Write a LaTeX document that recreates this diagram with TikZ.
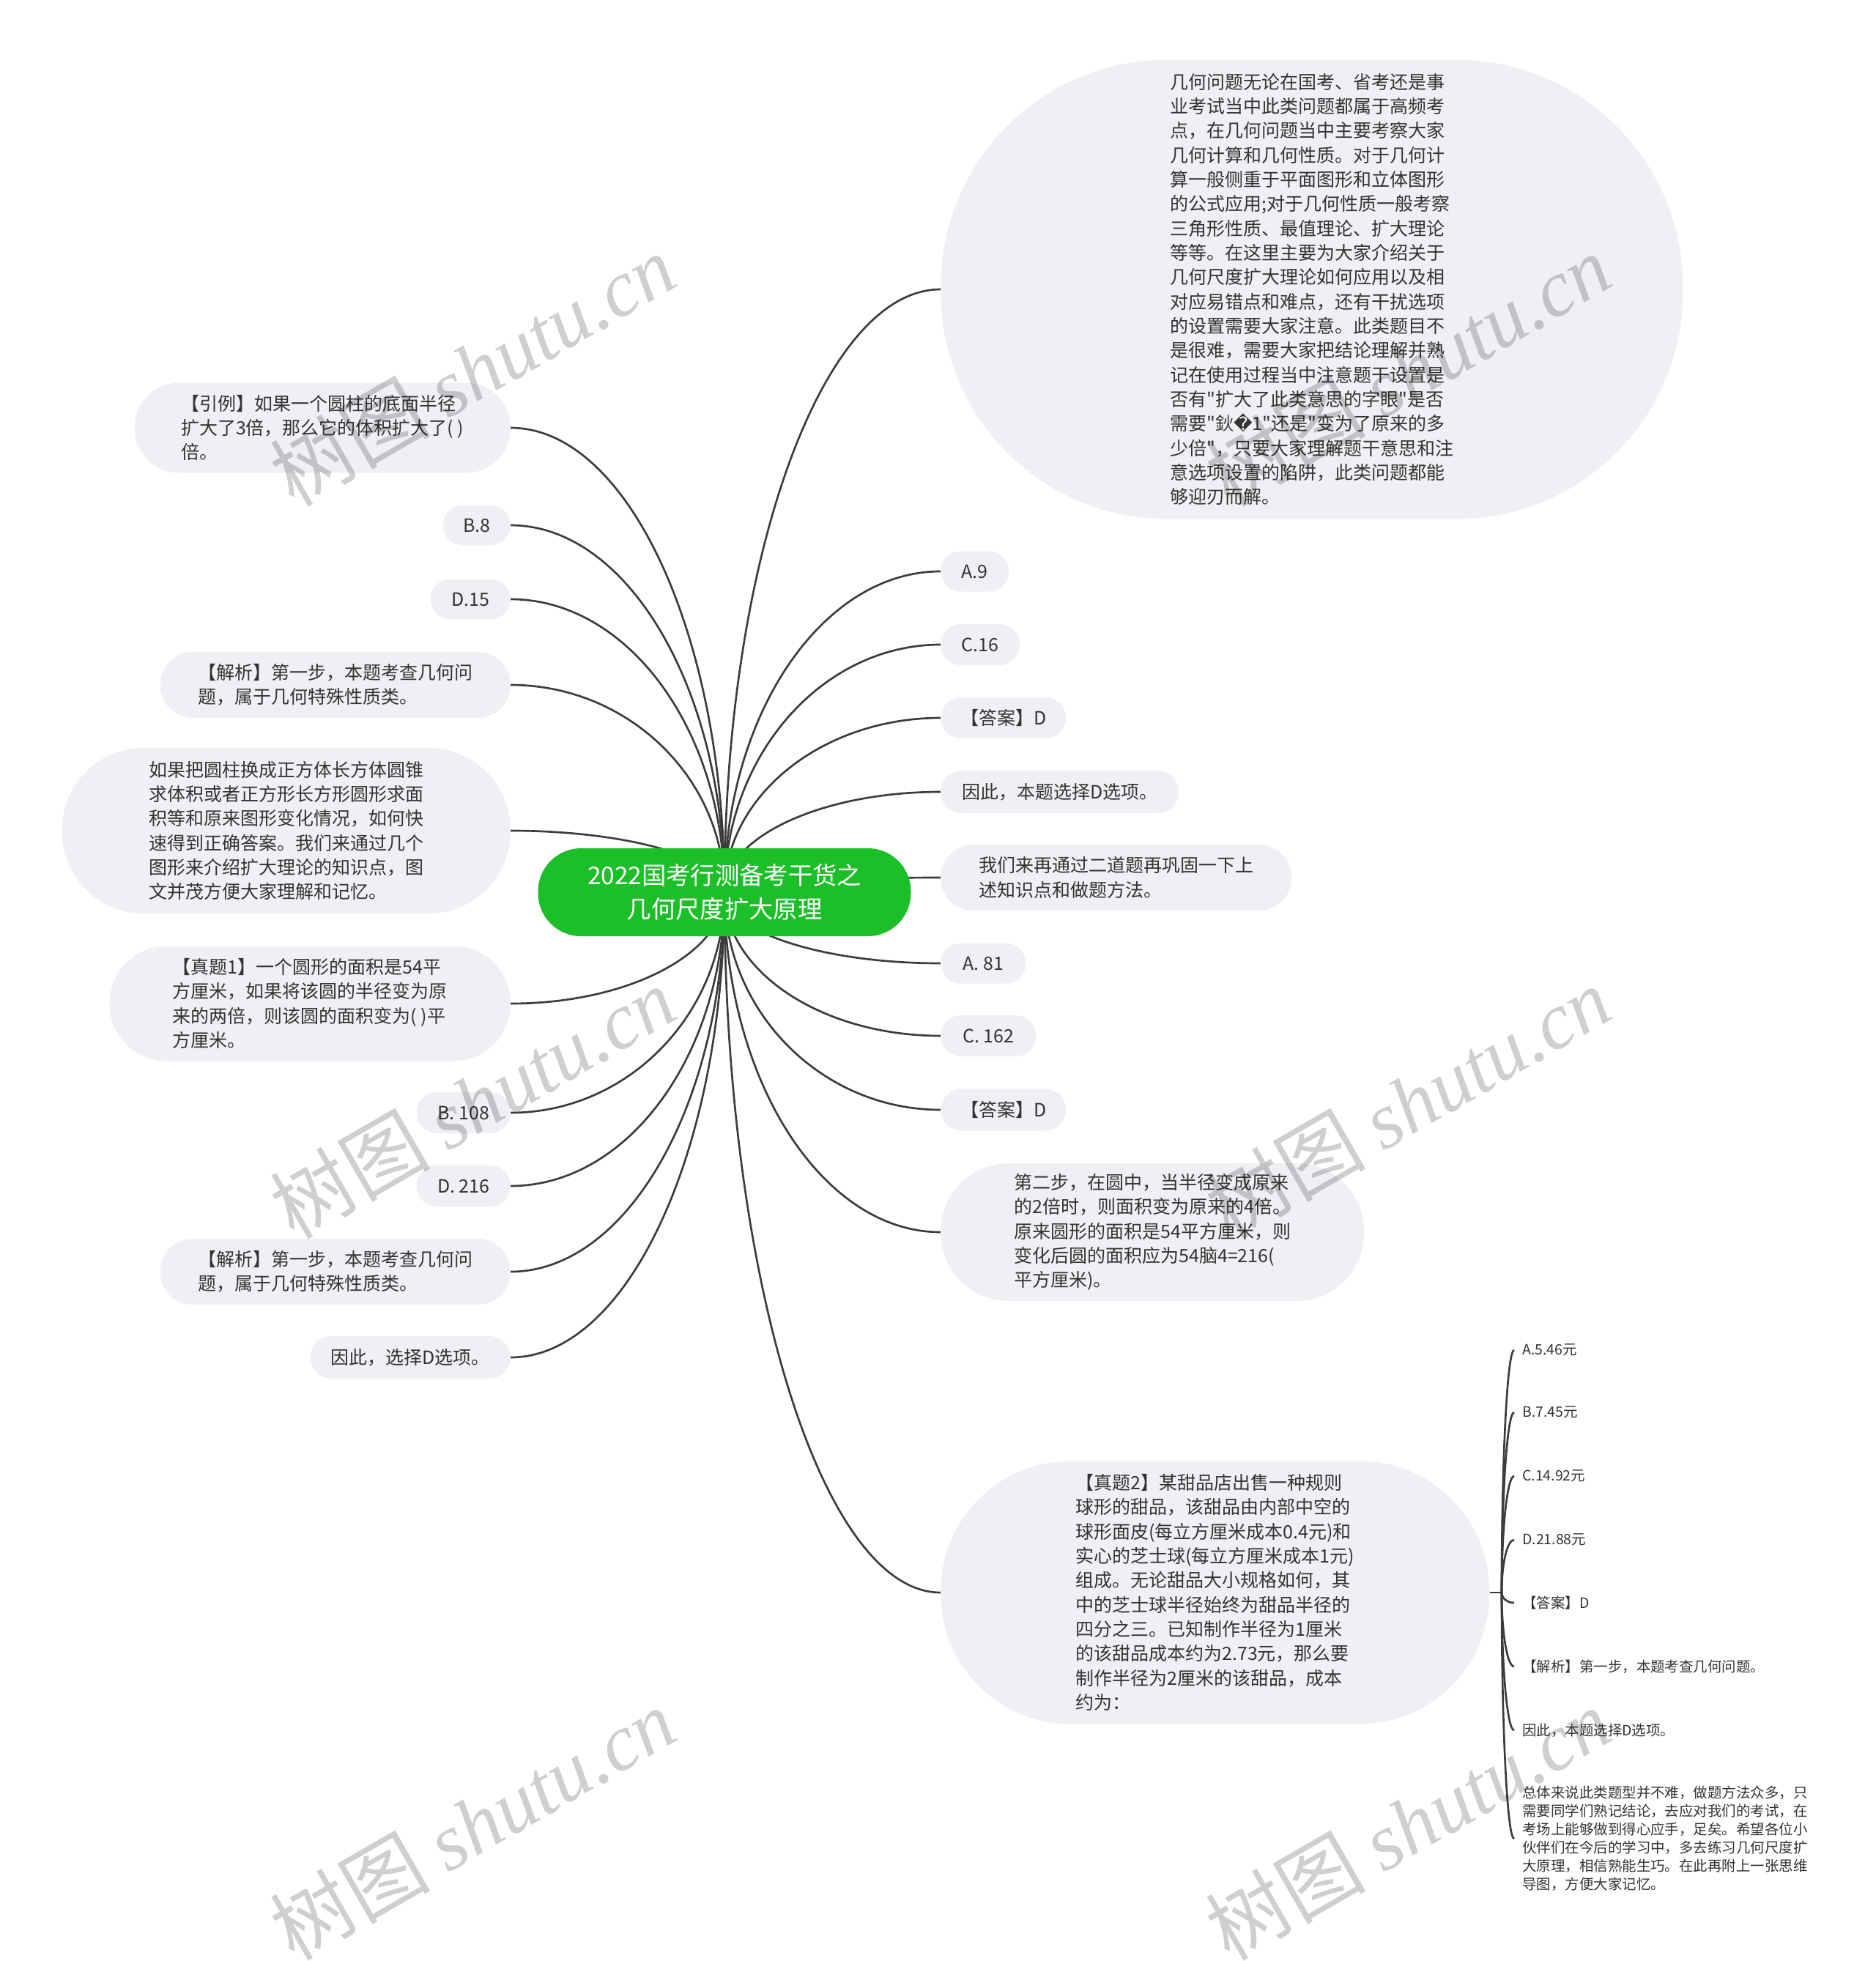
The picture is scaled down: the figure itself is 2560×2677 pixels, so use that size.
\documentclass[tikz,border=0pt]{standalone}
\usepackage{fontspec}
\setmainfont{Noto Sans CJK SC}
\newfontfamily\cjkplain{Noto Sans CJK SC}
\newfontfamily\djv{DejaVu Sans}
\newfontfamily\wmlat{Liberation Serif}
\usetikzlibrary{calc}
\definecolor{nodebg}{HTML}{EEF0F3}
\definecolor{txt}{HTML}{333333}
\definecolor{rootg}{HTML}{1DBF29}
\definecolor{linec}{HTML}{3C3C3C}
\newcommand\mfont{\cjkplain\fontsize{18.75pt}{25pt}\selectfont}
\newcommand\sfont{\cjkplain\fontsize{14.6pt}{18.75pt}\selectfont}
\newcommand\rfont{\cjkplain\fontsize{25pt}{34.5pt}\selectfont}
\newcommand\wfont{\cjkplain\fontsize{82pt}{82pt}\selectfont}
\pgfdeclarelayer{bg}\pgfdeclarelayer{fg}\pgfsetlayers{bg,main,fg}
\newcommand\connR[1]{\draw[conn] (root.center) .. controls ($(root.center)!0.55!(root.center |- #1.west)$) and ($(#1.west)!0.55!(root.center |- #1.west)$) .. (#1.west);}
\newcommand\connL[1]{\draw[conn] (root.center) .. controls ($(root.center)!0.55!(root.center |- #1.east)$) and ($(#1.east)!0.55!(root.center |- #1.east)$) .. (#1.east);}
\newcommand\connS[1]{\draw[conn] (stub) .. controls ($(stub)!0.55!(stub |- #1.west)$) and ($(#1.west)!0.55!(stub |- #1.west)$) .. (#1.west);}
\begin{document}
\begin{tikzpicture}[x=0.75pt,y=-0.75pt,
  conn/.style={draw=linec, line width=2pt},
  pill/.style 2 args={fill=nodebg, text=txt, align=left, inner sep=0pt, font=\mfont,
    minimum width=#1*0.75pt, minimum height=#2*0.75pt, rounded corners=#2*0.37pt},
  rnode/.style={anchor=west},
  lnode/.style={anchor=east},
  sub/.style={text=txt, align=left, inner xsep=8.25pt, inner ysep=0pt, anchor=west, font=\sfont},
  wmk/.style={text=black, text opacity=0.19, rotate=30, font=\wfont, inner sep=0pt},
]
\useasboundingbox (0,0) rectangle (2560,2677);
\begin{pgfonlayer}{bg}
\fill[white] (0,0) rectangle (2560,2677);
\end{pgfonlayer}

% root
\node[fill=rootg, text=white, align=center, inner sep=0pt, minimum width=509*0.75pt,
  minimum height=120*0.75pt, rounded corners=44pt, font=\rfont] (root) at (989,1218)
  {2022国考行测备考干货之\\几何尺度扩大原理};

% right side
\node[pill={1013}{627}, rnode] (big) at (1284,395) {几何问题无论在国考、省考还是事\\业考试当中此类问题都属于高频考\\点，在几何问题当中主要考察大家\\几何计算和几何性质。对于几何计\\算一般侧重于平面图形和立体图形\\的公式应用;对于几何性质一般考察\\三角形性质、最值理论、扩大理论\\等等。在这里主要为大家介绍关于\\几何尺度扩大理论如何应用以及相\\对应易错点和难点，还有干扰选项\\的设置需要大家注意。此类题目不\\是很难，需要大家把结论理解并熟\\记在使用过程当中注意题干设置是\\否有"扩大了此类意思的字眼"是否\\需要"鈥{\djv\char"FFFD}1"还是"变为了原来的多\\少倍"，只要大家理解题干意思和注\\意选项设置的陷阱，此类问题都能\\够迎刃而解。};
\node[pill={93}{55}, rnode] (a9) at (1284,780) {A.9};
\node[pill={108}{56}, rnode] (c16) at (1284,880) {C.16};
\node[pill={171}{56}, rnode] (ans1) at (1284,980) {【答案】D};
\node[pill={325}{58}, rnode] (th1) at (1284,1081) {因此，本题选择D选项。};
\node[pill={479}{90}, rnode] (wm) at (1284,1198) {我们来再通过二道题再巩固一下上\\述知识点和做题方法。};
\node[pill={116}{55}, rnode] (a81) at (1284,1315) {A. 81};
\node[pill={130}{56}, rnode] (c162) at (1284,1414) {C. 162};
\node[pill={171}{57}, rnode] (ans2) at (1284,1515) {【答案】D};
\node[pill={578}{188}, rnode] (step2) at (1284,1682) {第二步，在圆中，当半径变成原来\\的2倍时，则面积变为原来的4倍。\\原来圆形的面积是54平方厘米，则\\变化后圆的面积应为54脑4=216(\\平方厘米)。};
\node[pill={749}{359}, rnode] (zt2) at (1284,2174) {【真题2】某甜品店出售一种规则\\球形的甜品，该甜品由内部中空的\\球形面皮(每立方厘米成本0.4元)和\\实心的芝士球(每立方厘米成本1元)\\组成。无论甜品大小规格如何，其\\中的芝士球半径始终为甜品半径的\\四分之三。已知制作半径为1厘米\\的该甜品成本约为2.73元，那么要\\制作半径为2厘米的该甜品，成本\\约为：};

% left side
\node[pill={513}{123}, lnode] (yl) at (697,584) {【引例】如果一个圆柱的底面半径\\扩大了3倍，那么它的体积扩大了( )\\倍。};
\node[pill={92}{55}, lnode] (b8) at (697,717) {B.8};
\node[pill={109}{55}, lnode] (d15) at (697,818) {D.15};
\node[pill={478}{90}, lnode] (jx1) at (697,935) {【解析】第一步，本题考查几何问\\题，属于几何特殊性质类。};
\node[pill={612}{226}, lnode] (rg) at (697,1134) {如果把圆柱换成正方体长方体圆锥\\求体积或者正方形长方形圆形求面\\积等和原来图形变化情况，如何快\\速得到正确答案。我们来通过几个\\图形来介绍扩大理论的知识点，图\\文并茂方便大家理解和记忆。};
\node[pill={547}{157}, lnode] (zt1) at (697,1370) {【真题1】一个圆形的面积是54平\\方厘米，如果将该圆的半径变为原\\来的两倍，则该圆的面积变为( )平\\方厘米。};
\node[pill={128}{56}, lnode] (b108) at (697,1519) {B. 108};
\node[pill={128}{57}, lnode] (d216) at (697,1619) {D. 216};
\node[pill={478}{90}, lnode] (jx2) at (697,1736) {【解析】第一步，本题考查几何问\\题，属于几何特殊性质类。};
\node[pill={273}{58}, lnode] (th2) at (697,1853) {因此，选择D选项。};

% sub children of zt2
\coordinate (stub) at (2050,2174);
\node[sub] (s1) at (2067,1843) {A.5.46元};
\node[sub] (s2) at (2067,1928) {B.7.45元};
\node[sub] (s3) at (2067,2015) {C.14.92元};
\node[sub] (s4) at (2067,2102) {D.21.88元};
\node[sub] (s5) at (2067,2188) {【答案】D};
\node[sub] (s6) at (2067,2275) {【解析】第一步，本题考查几何问题。};
\node[sub] (s7) at (2067,2362) {因此，本题选择D选项。};
\node[sub] (s8) at (2067,2510) {总体来说此类题型并不难，做题方法众多，只\\需要同学们熟记结论，去应对我们的考试，在\\考场上能够做到得心应手，足矣。希望各位小\\伙伴们在今后的学习中，多去练习几何尺度扩\\大原理，相信熟能生巧。在此再附上一张思维\\导图，方便大家记忆。};

\begin{pgfonlayer}{bg}
\foreach \n in {big,a9,c16,ans1,th1,wm,a81,c162,ans2,step2,zt2} {\connR{\n}}
\foreach \n in {yl,b8,d15,jx1,rg,zt1,b108,d216,jx2,th2} {\connL{\n}}
\draw[conn] (zt2.east) -- (stub);
\foreach \n in {s1,s2,s3,s4,s5,s6,s7,s8} {\connS{\n}}
\end{pgfonlayer}

% watermarks
\begin{pgfonlayer}{fg}
\foreach \wx/\wy [count=\i] in {645/505,1922/505,645/1505,1922/1505,645/2490,1922/2490}
  {\node[wmk] (wmk\i) at (\wx,\wy) {树图 {\wmlat\itshape shutu.cn}};}
\end{pgfonlayer}
\end{tikzpicture}
\end{document}
